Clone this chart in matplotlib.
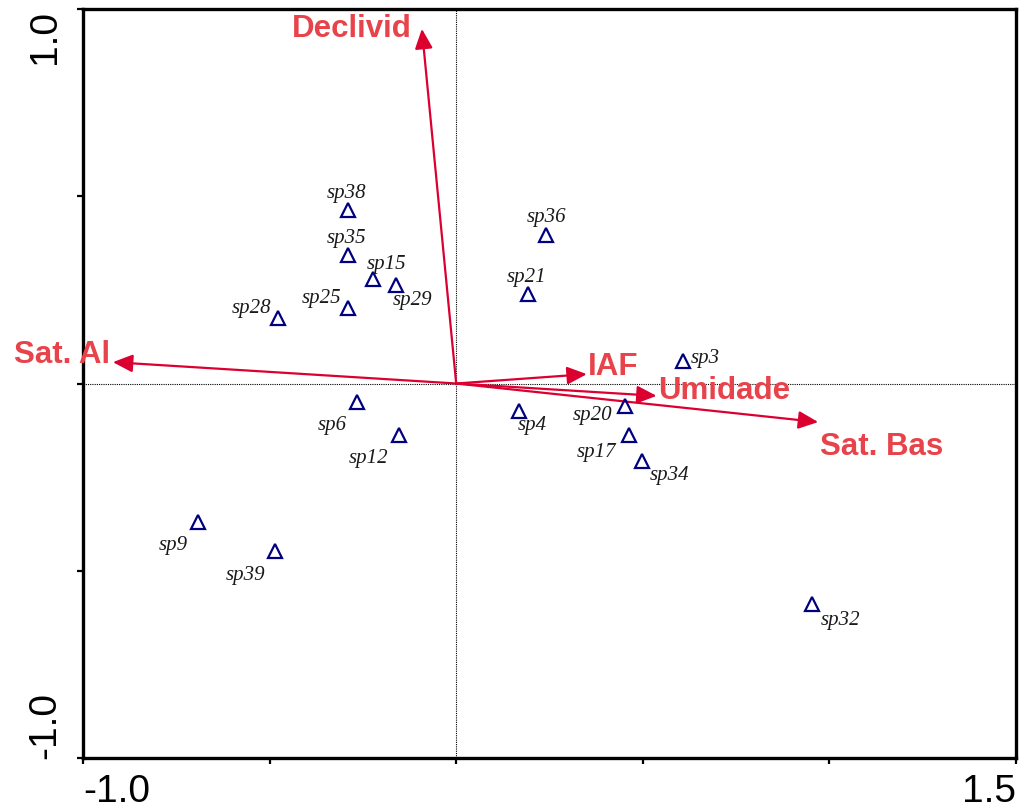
import matplotlib
matplotlib.use("Agg")
import matplotlib.pyplot as plt

# species scores
species = ["sp38", "sp35", "sp15", "sp29", "sp25", "sp28", "sp36", "sp21", "sp3",
           "sp4", "sp20", "sp17", "sp34", "sp6", "sp12", "sp9", "sp39", "sp32"]
sp_x = [-0.290, -0.290, -0.223, -0.161, -0.290, -0.477, 0.241, 0.192, 0.608,
        0.168, 0.452, 0.463, 0.498, -0.266, -0.153, -0.692, -0.486, 0.953]
sp_y = [0.462, 0.343, 0.279, 0.264, 0.202, 0.175, 0.397, 0.240, 0.060,
        -0.074, -0.060, -0.138, -0.207, -0.049, -0.137, -0.370, -0.447, -0.590]

# environmental variables (arrow tips)
env_names = ["Declivid", "Sat. Al", "IAF", "Umidade", "Sat. Bas"]
env_x = [-0.092, -0.920, 0.350, 0.537, 0.970]
env_y = [0.947, 0.057, 0.025, -0.033, -0.103]

# label placement (pixels relative to point)
sp_offsets = {
    "sp38": (-1, 13), "sp35": (-1, 13), "sp15": (14, 11), "sp29": (16, -19),
    "sp25": (-26, 6), "sp28": (-27, 6), "sp36": (0, 14), "sp21": (-1, 13),
    "sp3": (22, -1), "sp4": (13, -18), "sp20": (-32, -13), "sp17": (-32, -21),
    "sp34": (28, -18), "sp6": (-25, -27), "sp12": (-31, -27), "sp9": (-25, -27),
    "sp39": (-29, -28), "sp32": (29, -20),
}
env_offsets = {
    "Declivid": (-10, -7, "right"), "Sat. Al": (-3, 0, "right"),
    "IAF": (1, 0, "left"), "Umidade": (2, -2, "left"), "Sat. Bas": (2, -32, "left"),
}

arrow_color = "#dc0030"
label_color = "#e8434a"
marker_color = "#000080"

fig = plt.figure(figsize=(10.2, 8.12), dpi=100)
ax = fig.add_axes([83 / 1020, 1 - 759 / 812, 933 / 1020, 749 / 812])
ax.set_xlim(-1.0, 1.5)
ax.set_ylim(-1.0, 1.0)

ax.axhline(0, color="black", lw=0.8, ls=(0, (1, 1)), zorder=1)
ax.axvline(0, color="black", lw=0.8, ls=(0, (1, 1)), zorder=1)

# arrows
for name, x, y in zip(env_names, env_x, env_y):
    ax.annotate("", xy=(x, y), xytext=(0, 0),
                arrowprops=dict(arrowstyle="-|>,head_length=0.6,head_width=0.27",
                                color=arrow_color, lw=1.6, mutation_scale=20,
                                shrinkA=0, shrinkB=0), zorder=3)
    dx, dy, ha = env_offsets[name]
    ax.annotate(name, xy=(x, y), xytext=(dx, dy), textcoords="offset pixels",
                ha=ha, va="baseline", fontsize=22.5, fontweight="bold",
                family="Liberation Sans", color=label_color, zorder=4)

# species
ax.plot(sp_x, sp_y, linestyle="none", marker="^", markersize=10,
        markerfacecolor="none", markeredgecolor=marker_color,
        markeredgewidth=1.6, zorder=5)
for name, x, y in zip(species, sp_x, sp_y):
    dx, dy = sp_offsets[name]
    ax.annotate(name, xy=(x, y), xytext=(dx, dy), textcoords="offset pixels",
                ha="center", va="baseline", fontsize=15, style="italic",
                family="Liberation Serif", color="#1a1a1a", zorder=6)

# frame and ticks
for sp in ax.spines.values():
    sp.set_linewidth(2.4)
ax.set_xticks([-1.0, -0.5, 0.0, 0.5, 1.0, 1.5])
ax.set_xticklabels(["-1.0", "", "", "", "", "1.5"])
ax.set_yticks([-1.0, -0.5, 0.0, 0.5, 1.0])
ax.set_yticklabels(["-1.0", "", "", "", "1.0"], rotation=90)
ax.tick_params(direction="out", length=4.5, width=1.6, labelsize=28, pad=6)
ax.tick_params(axis="y", pad=10)
for lab in ax.get_xticklabels() + ax.get_yticklabels():
    lab.set_family("Liberation Sans")
xl = ax.get_xticklabels()
xl[0].set_ha("left")
xl[-1].set_ha("right")
yl = ax.get_yticklabels()
yl[0].set_va("bottom")
yl[-1].set_va("top")

fig.savefig("out.png", dpi=100)
